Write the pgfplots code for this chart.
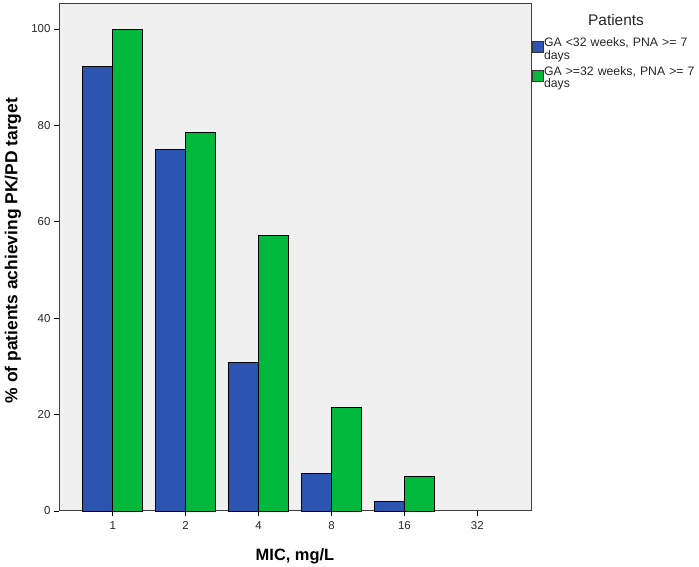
\documentclass[border=0pt]{standalone}
\usepackage{pgfplots}
\pgfplotsset{compat=1.18}
\usepackage{fontspec}
\setmainfont{Liberation Sans}
\definecolor{spssblue}{HTML}{2B55B0}
\definecolor{spssgreen}{HTML}{00B83C}
\definecolor{spssbg}{HTML}{F0F0F0}
\begin{document}
\begin{tikzpicture}[x=1bp,y=1bp]
\useasboundingbox (0,0) rectangle (699,567);
\begin{axis}[
  at={(59bp,56bp)}, anchor=south west,
  width=472bp, height=507bp, scale only axis,
  clip=false,
  axis background/.style={fill=spssbg},
  ybar=0pt, bar width=30bp,
  xmin=-0.737, xmax=5.737,
  ymin=0, ymax=105.2,
  xtick={0,1,2,3,4,5},
  xticklabels={1,2,4,8,16,32},
  ytick={0,20,40,60,80,100},
  tick align=outside, major tick length=5bp,
  xtick pos=bottom, ytick pos=left,
  tick style={black, line width=0.8pt},
  axis line style={draw=black!75, line width=1pt},
  /pgf/number format/assume math mode=true,
  ticklabel style={font=\fontsize{11.5}{13}\selectfont, text=black!85},
  xticklabel style={yshift=-2bp},
  every axis x label/.style={at={(axis description cs:0.5,0)}, anchor=center, yshift=-45bp, font=\fontsize{16.5}{18}\selectfont\bfseries},
  every axis y label/.style={at={(axis description cs:0,0.5)}, anchor=center, rotate=90, yshift=46bp, xshift=7bp, font=\fontsize{17.5}{19}\selectfont\bfseries},
  xlabel={MIC, mg/L},
  ylabel={\% of patients achieving PK/PD target},
  legend style={at={(rel axis cs:1,1)}, anchor=north west, xshift=1bp, yshift=-33.5bp,
    draw=none, fill=none, inner sep=0pt, row sep=13bp,
    nodes={text width=160bp, align=left, inner sep=0pt, font=\fontsize{12.3}{12.5}\selectfont, text=black!85},
    /tikz/every even column/.append style={column sep=3bp}},
  legend cell align=left,
  legend image code/.code={\draw[#1, line width=0.8pt, draw=black!80] (0bp,-10bp) rectangle (11bp,1bp);},
]
\addplot[fill=spssblue, draw=black, line width=0.8pt] coordinates {(0,92.3) (1,75.0) (2,30.8) (3,7.7) (4,1.9)};
\addplot[fill=spssgreen, draw=black, line width=0.8pt] coordinates {(0,100) (1,78.6) (2,57.1) (3,21.4) (4,7.1)};
\legend{{GA <32 weeks, PNA >= 7\\days}, {GA >=32 weeks, PNA >= 7\\days}}
\node[font=\fontsize{15.5}{17}\selectfont, text=black!85] at (rel axis cs:1,1) [xshift=85bp, yshift=-16bp] {Patients};
\end{axis}
\end{tikzpicture}
\end{document}
